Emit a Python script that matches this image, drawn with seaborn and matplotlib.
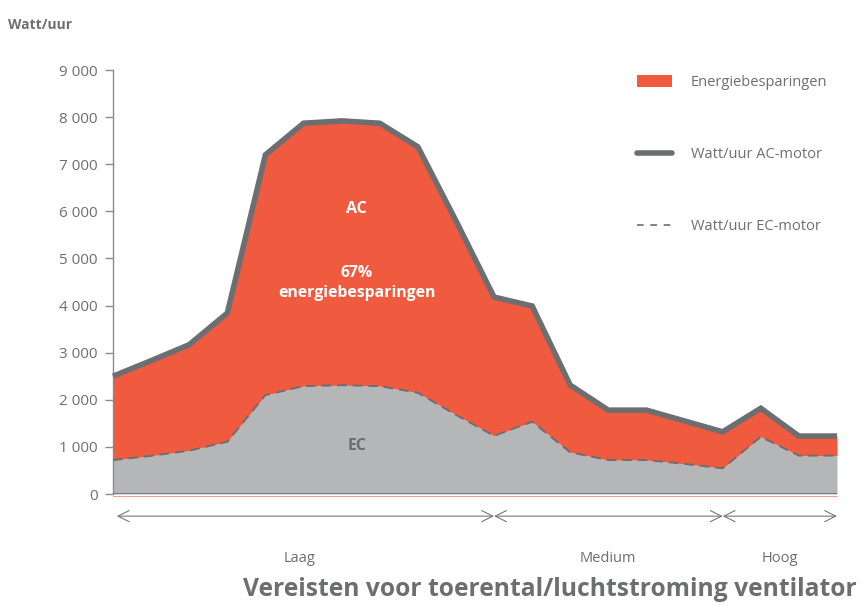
import numpy as np
import pandas as pd
import matplotlib
matplotlib.use("Agg")
import matplotlib.pyplot as plt
import seaborn as sns
from matplotlib.patches import Patch
from matplotlib.lines import Line2D

# ========== Data ==========
steps = list(range(20))
ac_watt = [2500, 2830, 3170, 3840, 7200, 7870, 7920, 7870, 7370, 5800,
           4180, 3990, 2310, 1780, 1780, 1550, 1320, 1820, 1230, 1230]
ec_watt = [720, 810, 920, 1110, 2100, 2290, 2310, 2290, 2150, 1680,
           1235, 1535, 885, 720, 720, 640, 545, 1215, 815, 815]
y_ticks = [0, 1000, 2000, 3000, 4000, 5000, 6000, 7000, 8000, 9000]
zones = ["Laag", "Medium", "Hoog"]
zone_bounds = [0.1, 10, 16, 19]
zone_label_x = [4.9, 13, 17.5]

# ========== Style ==========
sns.set_style("white")
plt.rcParams["font.family"] = ["Open Sans", "DejaVu Sans"]
red = "#F05B40"
fill_gray = "#B5B6B8"
dark = "#6D6E71"
txt = "#6D6E71"

df = pd.DataFrame({"step": steps, "AC": ac_watt, "EC": ec_watt})

fig = plt.figure(figsize=(8.64, 6.06), dpi=100)
ax = fig.add_axes([113 / 864, 1 - 494 / 606, (837 - 113) / 864, (494 - 70) / 606])

# fills
ax.fill_between(df["step"], 0, df["EC"], color=fill_gray, lw=0, zorder=1)
ax.fill_between(df["step"], df["EC"], df["AC"], color=red, lw=0, zorder=1)

# lines
sns.lineplot(data=df, x="step", y="AC", color=dark, lw=4.0, ax=ax, zorder=3,
             solid_capstyle="butt", solid_joinstyle="miter")
sns.lineplot(data=df, x="step", y="EC", color=dark, lw=1.4, ax=ax, zorder=3,
             linestyle=(0, (5, 3)))
for l in ax.lines:
    l.set_clip_on(False)

ax.axhline(0, color=dark, lw=1.2, zorder=4)
ax.axhline(-40, color="#F0A090", lw=0.8, zorder=4, clip_on=False)

ax.set_xlim(0, 19)
ax.set_ylim(0, 9000)
ax.set_yticks(y_ticks)
ax.set_yticklabels([f"{v:,}".replace(",", " ") for v in y_ticks], fontsize=11, color=txt)
ax.set_xticks([])
ax.set_xlabel("")
ax.set_ylabel("")
ax.tick_params(axis="y", direction="out", length=6, width=1, color="#8A8B8D", pad=5, left=True)
for s in ["top", "right", "bottom"]:
    ax.spines[s].set_visible(False)
ax.spines["left"].set_color("#8A8B8D")
ax.spines["left"].set_linewidth(1)

# labels in the chart
ax.text(6.4, 6050, "AC", color="white", fontsize=11.5, fontweight="bold", ha="center", va="center")
ax.text(6.4, 4480, "67%\nenergiebesparingen", color="white", fontsize=11.3, fontweight="bold",
        ha="center", va="center", linespacing=1.3)
ax.text(6.4, 1020, "EC", color=dark, fontsize=11.5, fontweight="bold", ha="center", va="center")

# zone arrows below the axis
for a, b in zip(zone_bounds[:-1], zone_bounds[1:]):
    ax.annotate("", xy=(a, -470), xytext=(b, -470), xycoords="data",
                arrowprops=dict(arrowstyle="<->,head_length=0.8,head_width=0.4",
                                color="#77787B", lw=0.8, shrinkA=0, shrinkB=0),
                annotation_clip=False)
for name, xz in zip(zones, zone_label_x):
    ax.text(xz, -1370, name, color=txt, fontsize=10.5, ha="center", va="center", clip_on=False)

fig.text(857 / 864, 1 - 590 / 606, "Vereisten voor toerental/luchtstroming ventilator",
         color=txt, fontsize=17.7, fontweight="bold", ha="right", va="center")
fig.text(8 / 864, 1 - 25 / 606, "Watt/uur", color=txt, fontsize=10, fontweight="bold",
         ha="left", va="center")

handles = [Patch(facecolor=red, edgecolor="none"),
           Line2D([0], [0], color=dark, lw=4.0),
           Line2D([0], [0], color=dark, lw=1.2, linestyle=(0, (4, 4)))]
labels = ["Energiebesparingen", "Watt/uur AC-motor", "Watt/uur EC-motor"]
fig.legend(handles, labels, loc="upper left", bbox_to_anchor=(624 / 864, 1 - 62 / 606),
           frameon=False, fontsize=10.5, labelcolor=txt, labelspacing=3.9,
           handlelength=2.4, handleheight=0.9, handletextpad=1.3)

fig.savefig("out.png", dpi=100)
